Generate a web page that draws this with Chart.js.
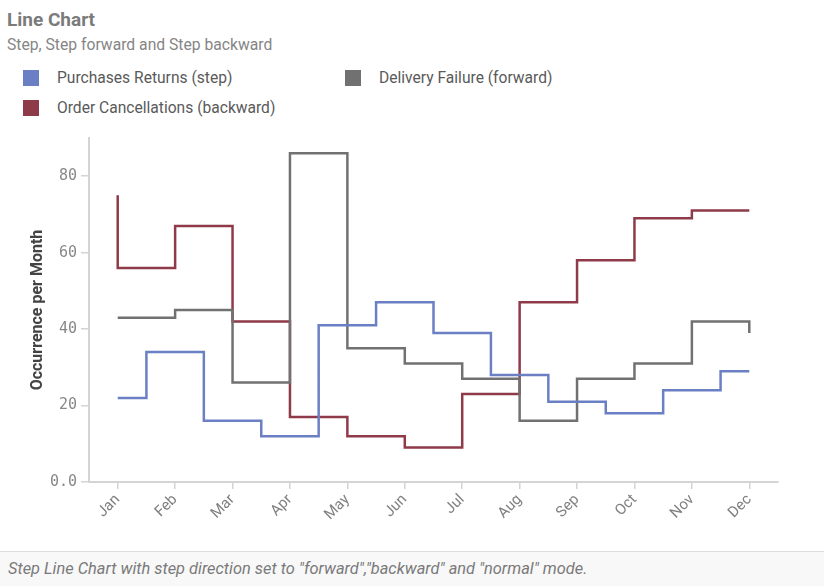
<!DOCTYPE html>
<html>
<head>
<meta charset="utf-8">
<script src="https://cdn.jsdelivr.net/npm/chart.js@4.4.0/dist/chart.umd.min.js"></script>
<style>
  html, body { margin: 0; padding: 0; background: #fff; }
  body { width: 824px; height: 586px; position: relative; overflow: hidden; font-family: Roboto, sans-serif; }
  #title { position: absolute; left: 7px; top: 8px; font-size: 19px; font-weight: bold; color: #7b7b7b; }
  #subtitle { position: absolute; left: 7px; top: 35px; font-size: 15.7px; color: #858585; }
  .leg { position: absolute; height: 16px; }
  .leg .box { position: absolute; left: 0; top: 0; width: 16px; height: 16px; }
  .leg .txt { position: absolute; left: 34px; top: -2px; font-size: 15.6px; line-height: 20px; color: #5a5a5a; white-space: nowrap; }
  #wrap { position: absolute; left: 0; top: 125px; width: 824px; height: 425px; }
  #footer { position: absolute; left: 0; top: 551px; width: 824px; height: 35px; box-sizing: border-box;
            background: #f8f8f8; border-top: 1px solid #dcdcdc; padding-left: 8px;
            font-style: italic; font-size: 16.4px; line-height: 34px; color: #7a7a7a; }
</style>
</head>
<body>
<div id="title">Line Chart</div>
<div id="subtitle">Step, Step forward and Step backward</div>
<div id="legend"></div>
<div id="wrap"><canvas id="chart"></canvas></div>
<div id="footer">Step Line Chart with step direction set to "forward","backward" and "normal" mode.</div>
<script>
// data
const months = ["Jan", "Feb", "Mar", "Apr", "May", "Jun", "Jul", "Aug", "Sep", "Oct", "Nov", "Dec"];
const purchasesReturns = [22, 34, 16, 12, 41, 47, 39, 28, 21, 18, 24, 29];
const deliveryFailure = [43, 45, 26, 86, 35, 31, 27, 16, 27, 31, 42, 39];
const orderCancellations = [75, 56, 67, 42, 17, 12, 9, 23, 47, 58, 69, 71];
const yTicks = [0, 20, 40, 60, 80];

var blue = "#6b7fc4";
var gray = "#717171";
var red = "#8f3a48";

var datasets = [
  { label: "Purchases Returns (step)", data: purchasesReturns, stepped: "middle", borderColor: blue, backgroundColor: blue },
  { label: "Delivery Failure (forward)", data: deliveryFailure, stepped: "before", borderColor: gray, backgroundColor: gray },
  { label: "Order Cancellations (backward)", data: orderCancellations, stepped: "after", borderColor: red, backgroundColor: red }
];
datasets.forEach(function(d) {
  d.borderWidth = 2.5;
  d.pointRadius = 0;
  d.fill = false;
});

// legend: two columns, like the original
var legendPos = [[23, 70], [23, 100], [345, 70]];
var order = [0, 2, 1];
var legend = document.getElementById("legend");
order.forEach(function(idx, i) {
  var item = document.createElement("div");
  item.className = "leg";
  item.style.left = legendPos[i][0] + "px";
  item.style.top = legendPos[i][1] + "px";
  item.innerHTML = '<span class="box" style="background:' + datasets[idx].borderColor + '"></span>' +
    '<span class="txt">' + datasets[idx].label + '</span>';
  legend.appendChild(item);
});

var axisColor = "#d4d4d4";
var ctx = document.getElementById("chart").getContext("2d");
var chart = new Chart(ctx, {
  type: "line",
  data: { labels: months, datasets: datasets },
  options: {
    responsive: true,
    maintainAspectRatio: false,
    animation: false,
    layout: { padding: { left: 0, right: 46, top: 10, bottom: 0 } },
    plugins: {
      legend: { display: false },
      tooltip: { enabled: false }
    },
    scales: {
      x: {
        offset: true,
        grid: { offset: false, drawOnChartArea: false, tickLength: 7, color: axisColor, lineWidth: 1.5 },
        border: { color: axisColor, width: 2 },
        ticks: { color: "#808080", font: { family: "Roboto", size: 15 }, minRotation: 45, maxRotation: 45, padding: 2 },
        afterFit: function(s) { s.height = 68; }
      },
      y: {
        min: 0,
        max: 90,
        afterBuildTicks: function(s) { s.ticks = yTicks.map(function(v) { return { value: v }; }); },
        ticks: {
          color: "#888",
          font: { family: "DejaVu Sans Mono", size: 15 },
          padding: 4,
          callback: function(v) { return v === 0 ? "0.0" : v; }
        },
        grid: { drawOnChartArea: false, tickLength: 8, color: axisColor, lineWidth: 1.5 },
        border: { color: axisColor, width: 2 },
        title: {
          display: true,
          text: "Occurrence per Month",
          color: "#444",
          font: { family: "Roboto", size: 16, weight: "bold" },
          padding: { top: 28, bottom: 0 }
        },
        afterFit: function(s) { s.width = 89; }
      }
    }
  }
});
</script>
</body>
</html>
